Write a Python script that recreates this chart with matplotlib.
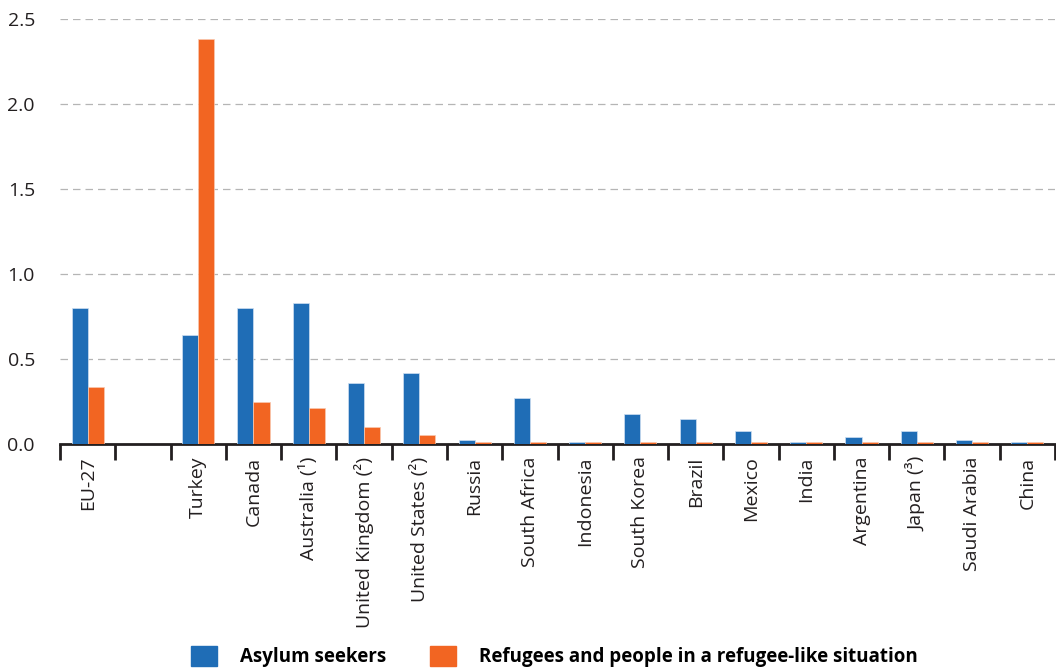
"""Asylum seekers and refugees per 1 000 inhabitants, G20 countries."""

import matplotlib

matplotlib.use("Agg")
import matplotlib.pyplot as plt
import numpy as np
from matplotlib.patches import Patch

plt.rcParams["font.family"] = ["Open Sans", "DejaVu Sans"]

countries = [
    "EU-27", "", "Turkey", "Canada", "Australia (¹)", "United Kingdom (²)",
    "United States (²)", "Russia", "South Africa", "Indonesia", "South Korea",
    "Brazil", "Mexico", "India", "Argentina", "Japan (³)", "Saudi Arabia", "China",
]
asylum_seekers = [
    0.80, np.nan, 0.64, 0.80, 0.83, 0.36, 0.42, 0.025, 0.27, 0.01, 0.175,
    0.15, 0.075, 0.01, 0.04, 0.075, 0.025, 0.01,
]
refugees = [
    0.335, np.nan, 2.38, 0.25, 0.21, 0.10, 0.052, 0.01, 0.01, 0.01, 0.01,
    0.01, 0.01, 0.01, 0.01, 0.01, 0.01, 0.01,
]
series_labels = ["Asylum seekers", "Refugees and people in a refugee-like situation"]
yticks = [0.0, 0.5, 1.0, 1.5, 2.0, 2.5]

BLUE = "#1f6db6"
ORANGE = "#f26522"

fig = plt.figure(figsize=(10.56, 6.68), dpi=100)
ax = fig.add_axes([60 / 1056, 1 - 444 / 668, 995 / 1056, (444 - 19) / 668])

x = np.arange(len(countries))
w = 0.29
ax.bar(x - w / 2, asylum_seekers, w, color=BLUE, edgecolor="#cfe0f2", linewidth=0.5, zorder=3)
ax.bar(x + w / 2, refugees, w, color=ORANGE, edgecolor="#f9c9b0", linewidth=0.5, zorder=3)

ax.set_xlim(-0.5, len(countries) - 0.5)
ax.set_ylim(0, 2.5)
ax.set_yticks(yticks)
ax.set_yticklabels([f"{v:.1f}" for v in yticks], fontsize=14, color="#231f20")
ax.tick_params(axis="y", length=0, pad=18)
ax.yaxis.grid(True, color="#b5b5b5", linestyle=(0, (6, 4)), linewidth=0.9, zorder=0)

# ticks at category boundaries, labels at centres
ax.set_xticks(np.arange(len(countries) + 1) - 0.5)
ax.set_xticklabels([])
ax.tick_params(axis="x", which="major", length=11.5, width=2, color="#231f20", direction="out")
ax.set_xticks(x, minor=True)
ax.set_xticklabels(countries, minor=True, rotation=90, fontsize=14,
                   color="#231f20", va="top", ha="center")
ax.tick_params(axis="x", which="minor", length=0, pad=9)

for side in ("top", "right", "left"):
    ax.spines[side].set_visible(False)
ax.spines["bottom"].set_linewidth(2)
ax.spines["bottom"].set_color("#231f20")

handles = [Patch(color=BLUE), Patch(color=ORANGE)]
fig.legend(handles, series_labels, loc="lower center", bbox_to_anchor=(0.525, -0.024),
           ncol=2, frameon=False, handlelength=1.39, handleheight=1.25,
           columnspacing=2.3, handletextpad=1.25,
           prop={"weight": "bold", "size": 13.5, "family": ["Open Sans", "DejaVu Sans"]})

fig.savefig("out.png", dpi=100)
